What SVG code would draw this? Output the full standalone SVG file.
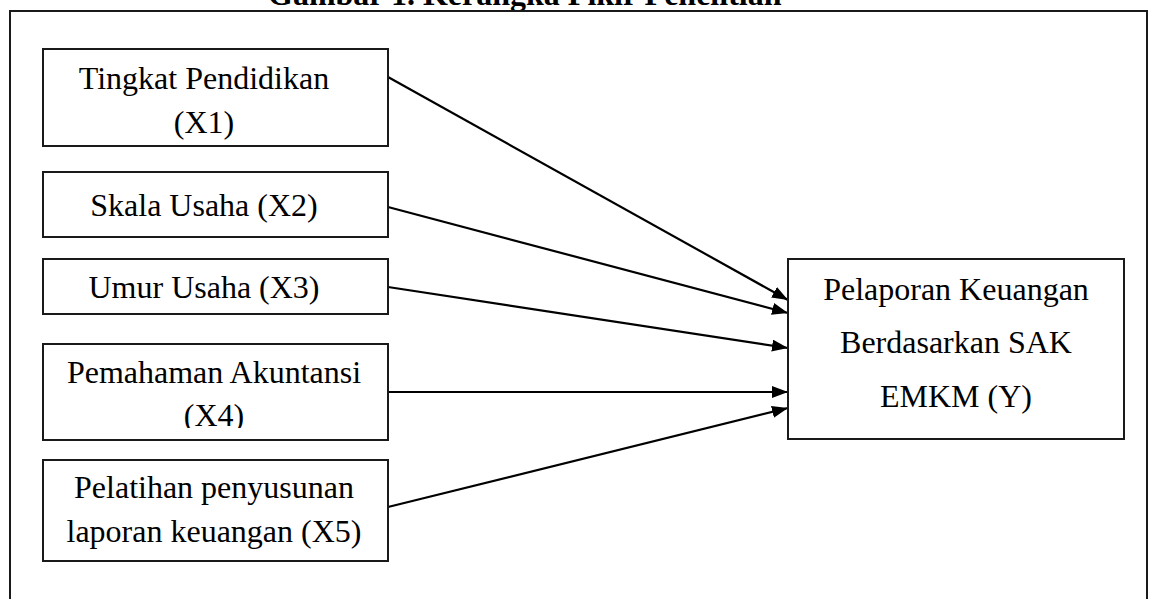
<svg xmlns="http://www.w3.org/2000/svg" width="1149" height="599" viewBox="0 0 1149 599">
<style>
.box{fill:#fff;stroke:#1a1a1a;stroke-width:2}
.t{font-family:"Liberation Serif","Times New Roman",serif;font-size:32px;fill:#000;text-anchor:middle}
.title{font-family:"Liberation Serif","Times New Roman",serif;font-size:32px;font-weight:bold;fill:#000}
.con{stroke:#000;stroke-width:2.2;fill:none;marker-end:url(#ah)}
</style>
<defs>
<marker id="ah" markerUnits="userSpaceOnUse" markerWidth="16" markerHeight="12" refX="16" refY="6" orient="auto">
<path d="M0,0 L16,6 L0,12 z" fill="#000"/>
</marker>
<clipPath id="clipX4"><rect x="43" y="344" width="345" height="84"/></clipPath>
</defs>
<rect x="0" y="0" width="1149" height="599" fill="#fff"/>
<text class="title" x="268" y="5">Gambar 1. Kerangka Pikir Penelitian</text>
<rect x="10" y="11" width="1137" height="600" fill="none" stroke="#1a1a1a" stroke-width="2"/>
<g id="connectors">
<line class="con" x1="388" y1="77" x2="788" y2="300"/>
<line class="con" x1="388" y1="207" x2="788" y2="313"/>
<line class="con" x1="388" y1="287" x2="788" y2="348"/>
<line class="con" x1="388" y1="392" x2="788" y2="392"/>
<line class="con" x1="388" y1="507" x2="788" y2="408"/>
</g>
<g id="x1">
<rect class="box" x="43" y="49" width="345" height="97"/>
<text class="t" x="204" y="89">Tingkat Pendidikan</text>
<text class="t" x="204" y="133">(X1)</text>
</g>
<g id="x2">
<rect class="box" x="43" y="172" width="345" height="65"/>
<text class="t" x="204" y="216">Skala Usaha (X2)</text>
</g>
<g id="x3">
<rect class="box" x="43" y="259" width="345" height="55"/>
<text class="t" x="204" y="298">Umur Usaha (X3)</text>
</g>
<g id="x4">
<rect class="box" x="43" y="344" width="345" height="96"/>
<text class="t" x="214" y="383">Pemahaman Akuntansi</text>
<text class="t" x="214" y="426" clip-path="url(#clipX4)">(X4)</text>
</g>
<g id="x5">
<rect class="box" x="43" y="460" width="345" height="101"/>
<text class="t" x="214" y="498">Pelatihan penyusunan</text>
<text class="t" x="214" y="542">laporan keuangan (X5)</text>
</g>
<g id="y">
<rect class="box" x="788" y="259" width="336" height="180"/>
<text class="t" x="956" y="300">Pelaporan Keuangan</text>
<text class="t" x="956" y="353">Berdasarkan SAK</text>
<text class="t" x="956" y="407">EMKM (Y)</text>
</g>
</svg>
